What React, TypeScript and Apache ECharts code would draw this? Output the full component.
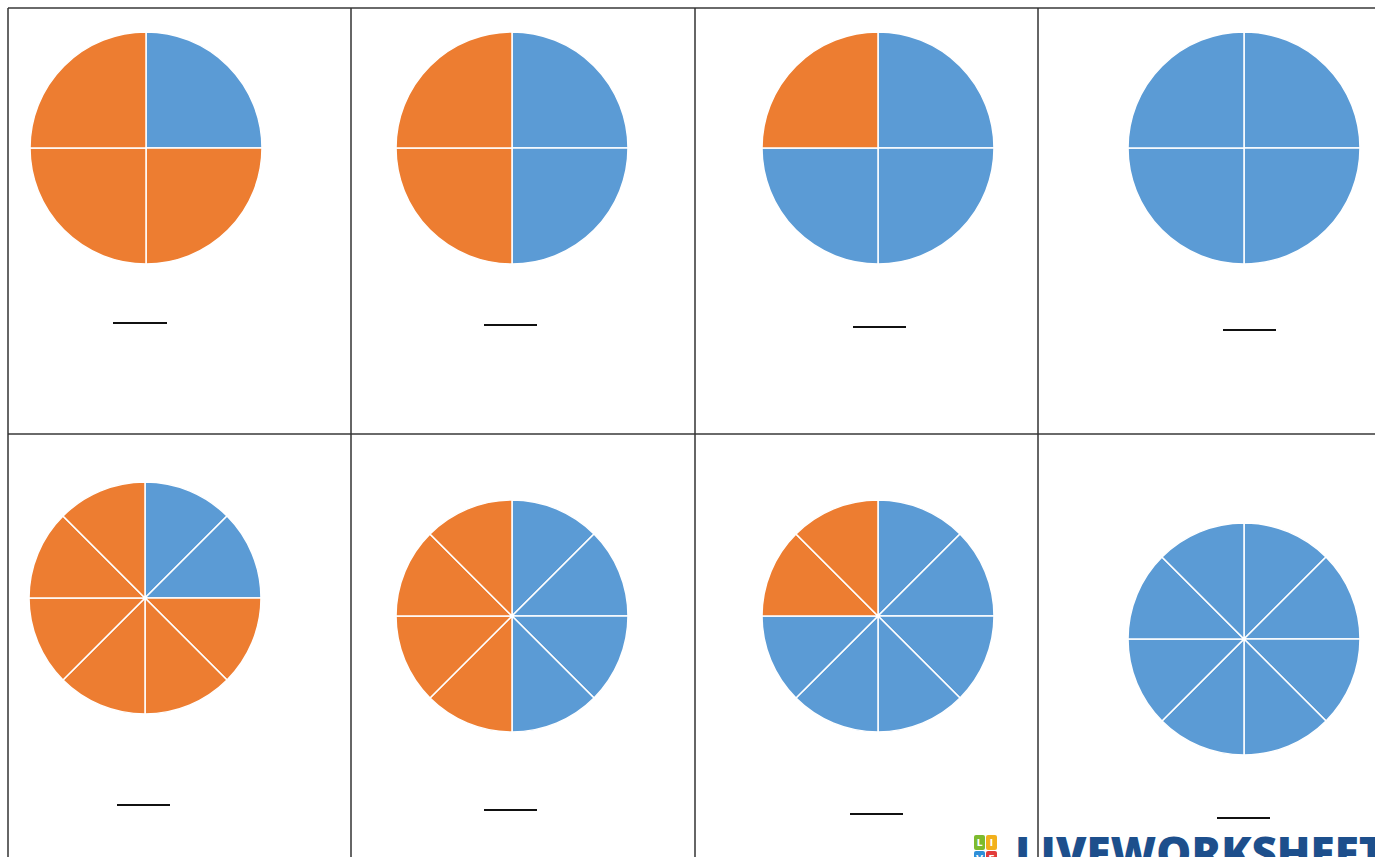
import React, { useEffect, useRef } from "react";
import * as echarts from "echarts";

// Fractions shown in each pie (row by row, left to right)
const shadedParts = [1, 2, 3, 4, 2, 4, 6, 8];
const totalParts = [4, 4, 4, 4, 8, 8, 8, 8];
const shadedColor = "#5B9BD5";
const restColor = "#ED7D31";

// Layout (pixels)
const pieCenters: [number, number][] = [
  [146, 148], [512, 148], [878, 148], [1244, 148],
  [145, 598], [512, 616], [878, 616], [1244, 639],
];
const pieRadius = 116;
const blanks: [number, number, number][] = [
  [113, 167, 323], [484, 537, 325], [853, 906, 327], [1223, 1276, 330],
  [117, 170, 805], [484, 537, 810], [850, 903, 814], [1217, 1270, 818],
];
const columnLinesX = [8, 351, 695, 1038];
const rowLinesY = [8, 434];

export default function App() {
  const ref = useRef<HTMLDivElement>(null);
  useEffect(() => {
    if (!ref.current) return;
    const chart = echarts.init(ref.current, null, { renderer: "svg" });

    const series = shadedParts.map((shaded, i) => ({
      type: "pie",
      center: pieCenters[i],
      radius: [0, pieRadius],
      startAngle: 90,
      clockwise: true,
      silent: true,
      label: { show: false },
      labelLine: { show: false },
      emphasis: { disabled: true },
      itemStyle: { borderColor: "#ffffff", borderWidth: 1.5 },
      data: Array.from({ length: totalParts[i] }, (_, k) => ({
        name: `part ${k + 1}`,
        value: 1,
        itemStyle: { color: k < shaded ? shadedColor : restColor },
      })),
    }));

    const graphics: any[] = [];
    rowLinesY.forEach((y) =>
      graphics.push({
        type: "line",
        shape: { x1: 8, y1: y, x2: 1375, y2: y },
        style: { stroke: "#6a6a6a", lineWidth: 2 },
        silent: true,
      })
    );
    columnLinesX.forEach((x) =>
      graphics.push({
        type: "line",
        shape: { x1: x, y1: 8, x2: x, y2: 857 },
        style: { stroke: "#333333", lineWidth: 1.5 },
        silent: true,
      })
    );
    blanks.forEach(([x1, x2, y]) =>
      graphics.push({
        type: "line",
        shape: { x1, y1: y, x2, y2: y },
        style: { stroke: "#111111", lineWidth: 2 },
        silent: true,
      })
    );
    // Liveworksheets logo
    const squares = [
      { x: 974, y: 835, c: "#7dbb2e", t: "L" },
      { x: 986, y: 835, c: "#f2b01c", t: "I" },
      { x: 974, y: 851, c: "#2f8fd8", t: "V" },
      { x: 986, y: 851, c: "#e23b3b", t: "E" },
    ];
    squares.forEach((s) => {
      graphics.push({
        type: "rect",
        shape: { x: s.x, y: s.y, width: 11, height: 15, r: 2 },
        style: { fill: s.c },
        silent: true,
      });
      graphics.push({
        type: "text",
        x: s.x + 5.5,
        y: s.y + 3,
        style: {
          text: s.t,
          fill: "#ffffff",
          font: "bold 9px 'DejaVu Sans'",
          align: "center",
          verticalAlign: "top",
        },
        silent: true,
      });
    });
    graphics.push({
      type: "text",
      x: 1015,
      y: 830,
      style: {
        text: "LIVEWORKSHEETS",
        fill: "#1d4f8c",
        font: "800 44px 'Open Sans'",
        align: "left",
        verticalAlign: "top",
      },
      silent: true,
    });

    chart.setOption({
      animation: false,
      backgroundColor: "#ffffff",
      series,
      graphic: { elements: graphics },
    });
    return () => chart.dispose();
  }, []);

  return (
    <div
      ref={ref}
      style={{ position: "fixed", left: 0, top: 0, width: 1375, height: 857 }}
    />
  );
}
